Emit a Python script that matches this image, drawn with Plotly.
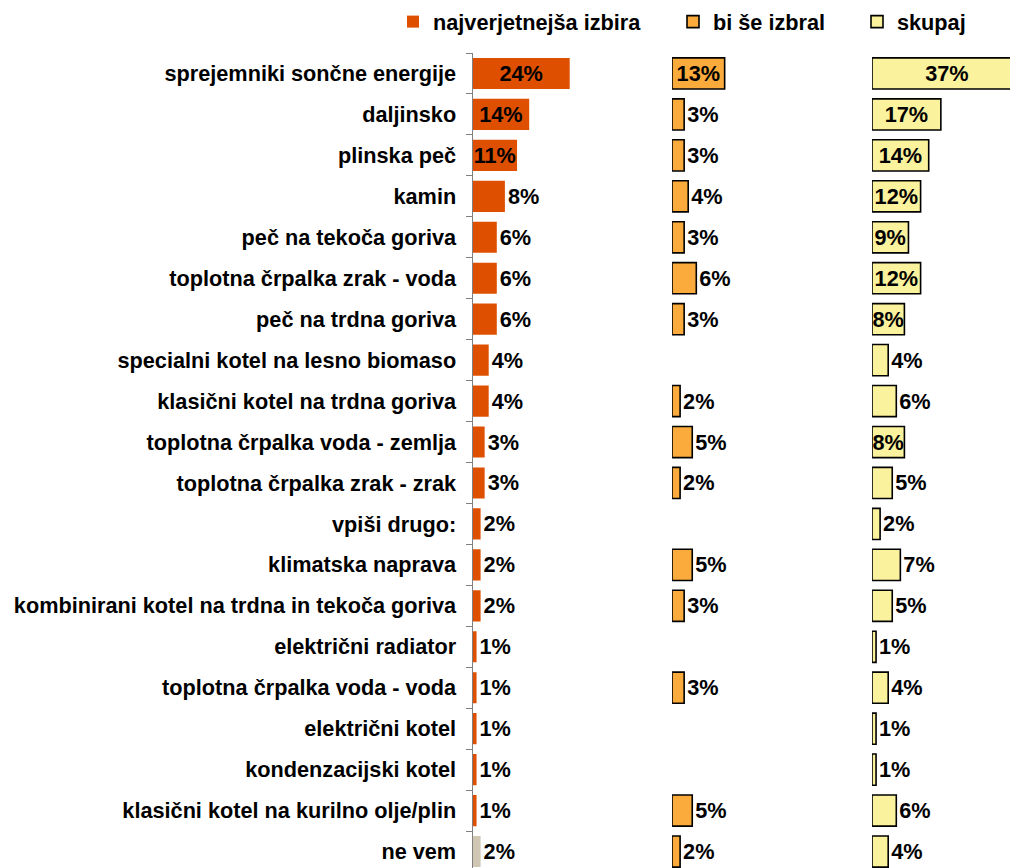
import plotly.graph_objects as go

categories = [
    "sprejemniki sončne energije", "daljinsko", "plinska peč", "kamin",
    "peč na tekoča goriva", "toplotna črpalka zrak - voda", "peč na trdna goriva",
    "specialni kotel na lesno biomaso", "klasični kotel na trdna goriva",
    "toplotna črpalka voda - zemlja", "toplotna črpalka zrak - zrak", "vpiši drugo:",
    "klimatska naprava", "kombinirani kotel na trdna in tekoča goriva",
    "električni radiator", "toplotna črpalka voda - voda", "električni kotel",
    "kondenzacijski kotel", "klasični kotel na kurilno olje/plin", "ne vem",
]
najverjetnejsa = [24, 14, 11, 8, 6, 6, 6, 4, 4, 3, 3, 2, 2, 2, 1, 1, 1, 1, 1, 2]
bi_se_izbral = [13, 3, 3, 4, 3, 6, 3, None, 2, 5, 2, None, 5, 3, None, 3, None, None, 5, 2]
skupaj = [37, 17, 14, 12, 9, 12, 8, 4, 6, 8, 5, 2, 7, 5, 1, 4, 1, 1, 6, 4]
series_names = ["najverjetnejša izbira", "bi še izbral", "skupaj"]

inside1 = {0, 1, 2}
inside2 = {0}
inside3 = {0, 1, 2, 3, 4, 5, 6, 9}

OFF = 8  # page body margin
W = 1030
H = 868 - OFF
FS = 21.7
FONT = "Liberation Sans, Arial, sans-serif"
PX_PER = 4.05


def labels(vals):
    return [f"{v}%" if v is not None else "" for v in vals]


def positions(vals, inside):
    return ["inside" if i in inside else "outside" for i in range(len(vals))]


c1 = ["#DE5000"] * (len(categories) - 1) + ["#CFC6B4"]

fig = go.Figure()
fig.add_trace(go.Bar(
    y=categories, x=najverjetnejsa, orientation="h", name=series_names[0],
    marker=dict(color=c1, line=dict(width=0)),
    text=labels(najverjetnejsa), textposition=positions(najverjetnejsa, inside1),
    insidetextanchor="middle", constraintext="none", cliponaxis=False,
    textfont=dict(family=FONT, size=FS, color="black", weight="bold"),
    xaxis="x", yaxis="y", legend="legend",
))
fig.add_trace(go.Bar(
    y=categories, x=bi_se_izbral, orientation="h", name=series_names[1],
    marker=dict(color="#FBAB3B", line=dict(width=1.6, color="black")),
    text=labels(bi_se_izbral), textposition=positions(bi_se_izbral, inside2),
    insidetextanchor="middle", constraintext="none", cliponaxis=False,
    textfont=dict(family=FONT, size=FS, color="black", weight="bold"),
    xaxis="x2", yaxis="y", legend="legend2",
))
fig.add_trace(go.Bar(
    y=categories, x=skupaj, orientation="h", name=series_names[2],
    marker=dict(color="#FBF29D", line=dict(width=1.6, color="black")),
    text=labels(skupaj), textposition=positions(skupaj, inside3),
    insidetextanchor="middle", constraintext="none", cliponaxis=True,
    textfont=dict(family=FONT, size=FS, color="black", weight="bold"),
    xaxis="x3", yaxis="y", legend="legend3",
))

top = 53 - OFF
plot_h = H - top
ytop = 1 + (top - (22 - OFF)) / plot_h
spacing = 40.95
ybottom = -0.5 + plot_h / spacing

leg_common = dict(orientation="h", yanchor="middle", y=ytop, xanchor="left",
                  font=dict(family=FONT, size=FS, color="black", weight="bold"),
                  bgcolor="rgba(0,0,0,0)", borderwidth=0, itemwidth=30)

d1 = (472.5 - OFF, 652 - OFF)
d2 = (672 - OFF, 852 - OFF)
d3 = (872 - OFF, 1030 - OFF)

fig.update_layout(
    width=W, height=H,
    margin=dict(l=0, r=0, t=top, b=0, autoexpand=False),
    paper_bgcolor="white", plot_bgcolor="white",
    barmode="overlay", bargap=0.24,
    uniformtext=dict(minsize=FS, mode="show"),
    font=dict(family=FONT, size=FS, color="black", weight="bold"),
    xaxis=dict(domain=[d1[0] / W, d1[1] / W], range=[0, (d1[1] - d1[0]) / PX_PER],
               visible=False, anchor="y"),
    xaxis2=dict(domain=[d2[0] / W, d2[1] / W], range=[0, (d2[1] - d2[0]) / PX_PER],
                visible=False, anchor="y"),
    xaxis3=dict(domain=[d3[0] / W, d3[1] / W], range=[0, (d3[1] - d3[0]) / PX_PER],
                visible=False, anchor="y"),
    yaxis=dict(categoryorder="array", categoryarray=categories,
               range=[ybottom, -0.5], anchor="x", automargin=False,
               showline=True, linecolor="#808080", linewidth=1,
               ticks="outside", tickson="boundaries", ticklen=6, tickcolor="#808080",
               ticklabelstandoff=11,
               tickfont=dict(family=FONT, size=FS, color="black", weight="bold"),
               showgrid=False, zeroline=False),
    legend=dict(x=(433 - OFF - 40) / W, **leg_common),
    legend2=dict(x=(713 - OFF - 40) / W, **leg_common),
    legend3=dict(x=(897 - OFF - 40) / W, **leg_common),
    showlegend=True,
)

fig.write_html("out.html")
